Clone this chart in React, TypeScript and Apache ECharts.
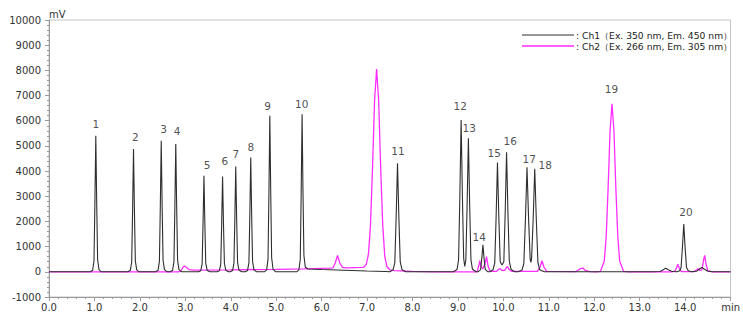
import React, { useEffect, useRef } from "react";
import * as echarts from "echarts";

// Ch1 (Ex. 350 nm, Em. 450 nm) – [time (min), signal (mV)]
const ch1Points: [number, number][] = [
  [0, 0], [0.91, 0], [0.96, 60], [0.99, 430], [1.01, 2700], [1.03, 5400], [1.05, 2700], [1.07, 490], [1.1, 90], [1.15, 0],
  [1.74, 0], [1.79, 60], [1.82, 390], [1.84, 2440], [1.86, 4880], [1.88, 2440], [1.9, 440], [1.93, 80], [1.98, 0],
  [2.35, 0], [2.4, 60], [2.43, 415], [2.45, 2600], [2.47, 5200], [2.49, 2600], [2.51, 470], [2.54, 90], [2.6, 0],
  [2.67, 0], [2.72, 60], [2.75, 405], [2.77, 2540], [2.79, 5080], [2.81, 2540], [2.83, 455], [2.86, 85], [2.92, 0],
  [3.29, 0], [3.34, 45], [3.37, 305], [3.39, 1905], [3.41, 3810], [3.43, 1905], [3.45, 345], [3.48, 65], [3.54, 0],
  [3.7, 0], [3.75, 45], [3.78, 300], [3.8, 1890], [3.82, 3780], [3.84, 1890], [3.86, 340], [3.89, 65], [3.95, 0],
  [3.99, 0], [4.04, 50], [4.07, 335], [4.09, 2090], [4.11, 4180], [4.13, 2090], [4.15, 375], [4.18, 70], [4.24, 0],
  [4.32, 0], [4.37, 55], [4.4, 365], [4.42, 2270], [4.44, 4540], [4.46, 2270], [4.48, 410], [4.51, 80], [4.57, 0],
  [4.74, 0], [4.79, 75], [4.82, 495], [4.84, 3100], [4.86, 6200], [4.88, 3100], [4.9, 560], [4.93, 110], [4.99, 0],
  [5.45, 0], [5.5, 75], [5.53, 500], [5.55, 3130], [5.57, 6260], [5.59, 3130], [5.61, 660], [5.64, 190], [5.7, 110],
  [6.0, 90], [6.5, 60], [7.0, 30], [7.4, 10],
  [7.5, 5], [7.57, 70], [7.61, 345], [7.64, 2155], [7.67, 4310], [7.7, 2155], [7.73, 390], [7.77, 80], [7.85, 0],
  [8.9, 0], [8.98, 90], [9.014, 480], [9.042, 3015], [9.07, 6030], [9.098, 3015], [9.126, 540], [9.15, 210],
  [9.174, 480], [9.202, 2650], [9.23, 5300], [9.258, 2650], [9.286, 480], [9.32, 100], [9.4, 0],
  [9.44, 0], [9.5, 90], [9.525, 535], [9.55, 1070], [9.575, 535], [9.6, 95], [9.66, 0],
  [9.7, 0], [9.77, 70], [9.81, 350], [9.84, 2170], [9.87, 4340], [9.9, 2170], [9.93, 400], [9.97, 270],
  [10.01, 400], [10.04, 2375], [10.07, 4750], [10.1, 2375], [10.13, 430], [10.17, 90], [10.25, 0],
  [10.33, 0], [10.41, 70], [10.45, 330], [10.485, 2075], [10.52, 4150], [10.555, 2075], [10.59, 500], [10.605, 370],
  [10.62, 500], [10.655, 2045], [10.69, 4090], [10.725, 2045], [10.76, 370], [10.8, 80], [10.9, 0],
  [13.3, 0], [13.45, 10], [13.52, 80], [13.57, 145], [13.62, 90], [13.7, 20], [13.8, 0],
  [13.82, 0], [13.88, 40], [13.91, 170], [13.94, 950], [13.97, 1900], [14.0, 950], [14.03, 170], [14.07, 40], [14.14, 5],
  [14.25, 20], [14.32, 120], [14.37, 170], [14.42, 110], [14.5, 20], [14.6, 0], [15, 0],
];

// Ch2 (Ex. 266 nm, Em. 305 nm)
const ch2Points: [number, number][] = [
  [0, 0], [2.85, 0], [2.9, 30], [2.95, 180], [2.98, 230], [3.02, 180], [3.08, 90], [3.2, 70],
  [4.0, 80], [5.0, 100], [5.6, 120], [6.0, 140], [6.2, 150],
  [6.25, 160], [6.3, 350], [6.35, 650], [6.4, 350], [6.46, 180], [6.55, 160],
  [6.9, 180], [6.94, 200], [6.985, 310], [7.03, 700], [7.075, 1850], [7.12, 4100], [7.165, 6800], [7.21, 8050],
  [7.255, 6800], [7.3, 4100], [7.345, 1850], [7.39, 600], [7.44, 200], [7.5, 80], [7.6, 50],
  [8.0, 20], [8.5, 0], [9.42, 0], [9.46, 250], [9.48, 440], [9.51, 200], [9.55, 120], [9.6, 350], [9.63, 600],
  [9.66, 250], [9.7, 40], [9.75, 20], [9.85, 20], [9.9, 100], [9.93, 130], [9.96, 60], [10.03, 60], [10.07, 180],
  [10.09, 210], [10.12, 100], [10.18, 20], [10.75, 20], [10.81, 200], [10.85, 440], [10.89, 200], [10.95, 20],
  [11.6, 10], [11.7, 130], [11.75, 150], [11.8, 60], [11.9, 10],
  [12.05, 0], [12.135, 15], [12.22, 420], [12.263, 1400], [12.305, 3335], [12.348, 5600], [12.39, 6670],
  [12.433, 5600], [12.475, 3335], [12.518, 1400], [12.56, 420], [12.645, 20], [12.75, 0],
  [13.7, 0], [13.78, 30], [13.82, 200], [13.84, 300], [13.87, 150], [13.92, 10], [14.2, 10], [14.26, 90],
  [14.28, 120], [14.31, 60], [14.37, 80], [14.41, 500], [14.43, 650], [14.46, 300], [14.5, 50], [14.6, 0], [15, 0],
];

const peakLabels = ["1", "2", "3", "4", "5", "6", "7", "8", "9", "10", "11", "12", "13", "14", "15", "16", "17", "18", "19", "20"];
const peakLabelTimes = [1.03, 1.9, 2.52, 2.82, 3.48, 3.87, 4.11, 4.44, 4.81, 5.56, 7.68, 9.05, 9.25, 9.47, 9.8, 10.15, 10.57, 10.92, 12.38, 14.02];
const peakLabelValues = [5870, 5360, 5670, 5600, 4250, 4400, 4680, 4960, 6590, 6670, 4800, 6590, 5710, 1390, 4720, 5200, 4480, 4250, 7260, 2380];

const legendTexts = [": Ch1（Ex. 350 nm, Em. 450 nm）", ": Ch2（Ex. 266 nm, Em. 305 nm）"];

const CH1_COLOR = "#2e2e2e";
const CH2_COLOR = "#ff2cff";
const FONT = "DejaVu Sans";

export default function App() {
  const ref = useRef<HTMLDivElement>(null);
  useEffect(() => {
    if (!ref.current) return;
    const chart = echarts.init(ref.current, undefined, { renderer: "svg" });
    chart.setOption({
      animation: false,
      grid: { left: 49, right: 10, top: 20, bottom: 23, show: true, borderColor: "#c4c4c4", borderWidth: 1 },
      xAxis: {
        type: "value",
        min: 0,
        max: 15,
        interval: 1,
        axisLine: { onZero: false, lineStyle: { color: "#9a9a9a" } },
        axisTick: { length: 4, lineStyle: { color: "#9a9a9a" } },
        minorTick: { show: true, splitNumber: 5, length: 2, lineStyle: { color: "#9a9a9a" } },
        splitLine: { show: false },
        axisLabel: {
          color: "#333",
          fontFamily: FONT,
          fontSize: 10,
          margin: 5,
          formatter: (v: number) => (v === 15 ? "min" : v.toFixed(1)),
        },
      },
      yAxis: {
        type: "value",
        min: -1000,
        max: 10000,
        interval: 1000,
        name: "mV",
        nameLocation: "end",
        nameGap: 1,
        nameTextStyle: { color: "#333", fontFamily: FONT, fontSize: 10, align: "left", verticalAlign: "bottom" },
        axisLine: { show: true, lineStyle: { color: "#9a9a9a" } },
        axisTick: { show: true, length: 4, lineStyle: { color: "#9a9a9a" } },
        minorTick: { show: true, splitNumber: 5, length: 2, lineStyle: { color: "#9a9a9a" } },
        splitLine: { show: false },
        axisLabel: { color: "#333", fontFamily: FONT, fontSize: 10, margin: 8, formatter: (v: number) => String(v) },
      },
      series: [
        {
          name: "Ch2",
          type: "line",
          data: ch2Points,
          showSymbol: false,
          lineStyle: { color: CH2_COLOR, width: 1.3 },
          z: 2,
        },
        {
          name: "Ch1",
          type: "line",
          data: ch1Points,
          showSymbol: false,
          lineStyle: { color: CH1_COLOR, width: 1.1 },
          z: 3,
        },
        {
          name: "peaks",
          type: "scatter",
          data: peakLabelTimes.map((t, i) => [t, peakLabelValues[i]]),
          symbolSize: 0,
          itemStyle: { color: "#222" },
          silent: true,
          z: 4,
          label: {
            show: true,
            position: "inside",
            color: "#222",
            textBorderWidth: 0,
            fontFamily: FONT,
            fontSize: 10.5,
            formatter: (p: any) => peakLabels[p.dataIndex],
          },
        },
      ],
      graphic: [
        { type: "line", shape: { x1: 522, y1: 35, x2: 574, y2: 35 }, style: { stroke: CH1_COLOR, lineWidth: 1 } },
        { type: "line", shape: { x1: 522, y1: 46, x2: 574, y2: 46 }, style: { stroke: CH2_COLOR, lineWidth: 1.3 } },
        { type: "text", x: 576, y: 35, style: { text: legendTexts[0], fill: "#222", font: `9.2px '${FONT}'`, verticalAlign: "middle", align: "left" } },
        { type: "text", x: 576, y: 46, style: { text: legendTexts[1], fill: "#222", font: `9.2px '${FONT}'`, verticalAlign: "middle", align: "left" } },
      ],
    });
    return () => chart.dispose();
  }, []);
  return <div ref={ref} style={{ position: "absolute", left: 0, top: 0, width: 743, height: 320 }} />;
}
